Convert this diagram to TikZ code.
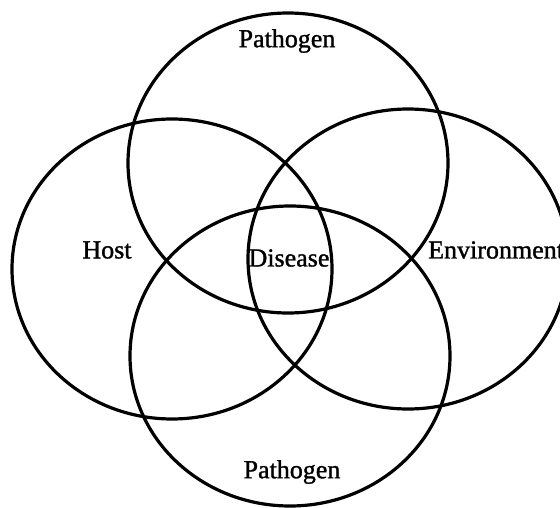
\documentclass[tikz,border=0pt]{standalone}
\usepackage{fontspec}
\setmainfont{Liberation Serif}
\newfontfamily\scanfont[FakeBold=1.2]{Liberation Serif}
\begin{document}
\begin{tikzpicture}[x=1pt,y=-1pt,
  ring/.style={draw=black,line width=3.2pt},
  lbl/.style={font=\scanfont\fontsize{26}{30}\selectfont,inner sep=0pt,text=black}]
\useasboundingbox (0,0) rectangle (560,508);
\fill[white] (0,0) rectangle (560,508);
\draw[ring] (288,163) ellipse [x radius=160, y radius=150];
\draw[ring] (172,269) ellipse [x radius=160, y radius=150];
\draw[ring] (408,259) ellipse [x radius=160, y radius=150];
\draw[ring] (290,356) ellipse [x radius=160, y radius=150];
\node[lbl] (p1) at (287,41) {Pathogen};
\node[lbl] (host) at (107,250) {Host};
\node[lbl] (dis) at (289,258) {Disease};
\node[lbl,anchor=west] (env) at (428,250) {Environment};
\node[lbl] (p2) at (292,472) {Pathogen};
\end{tikzpicture}
\end{document}
